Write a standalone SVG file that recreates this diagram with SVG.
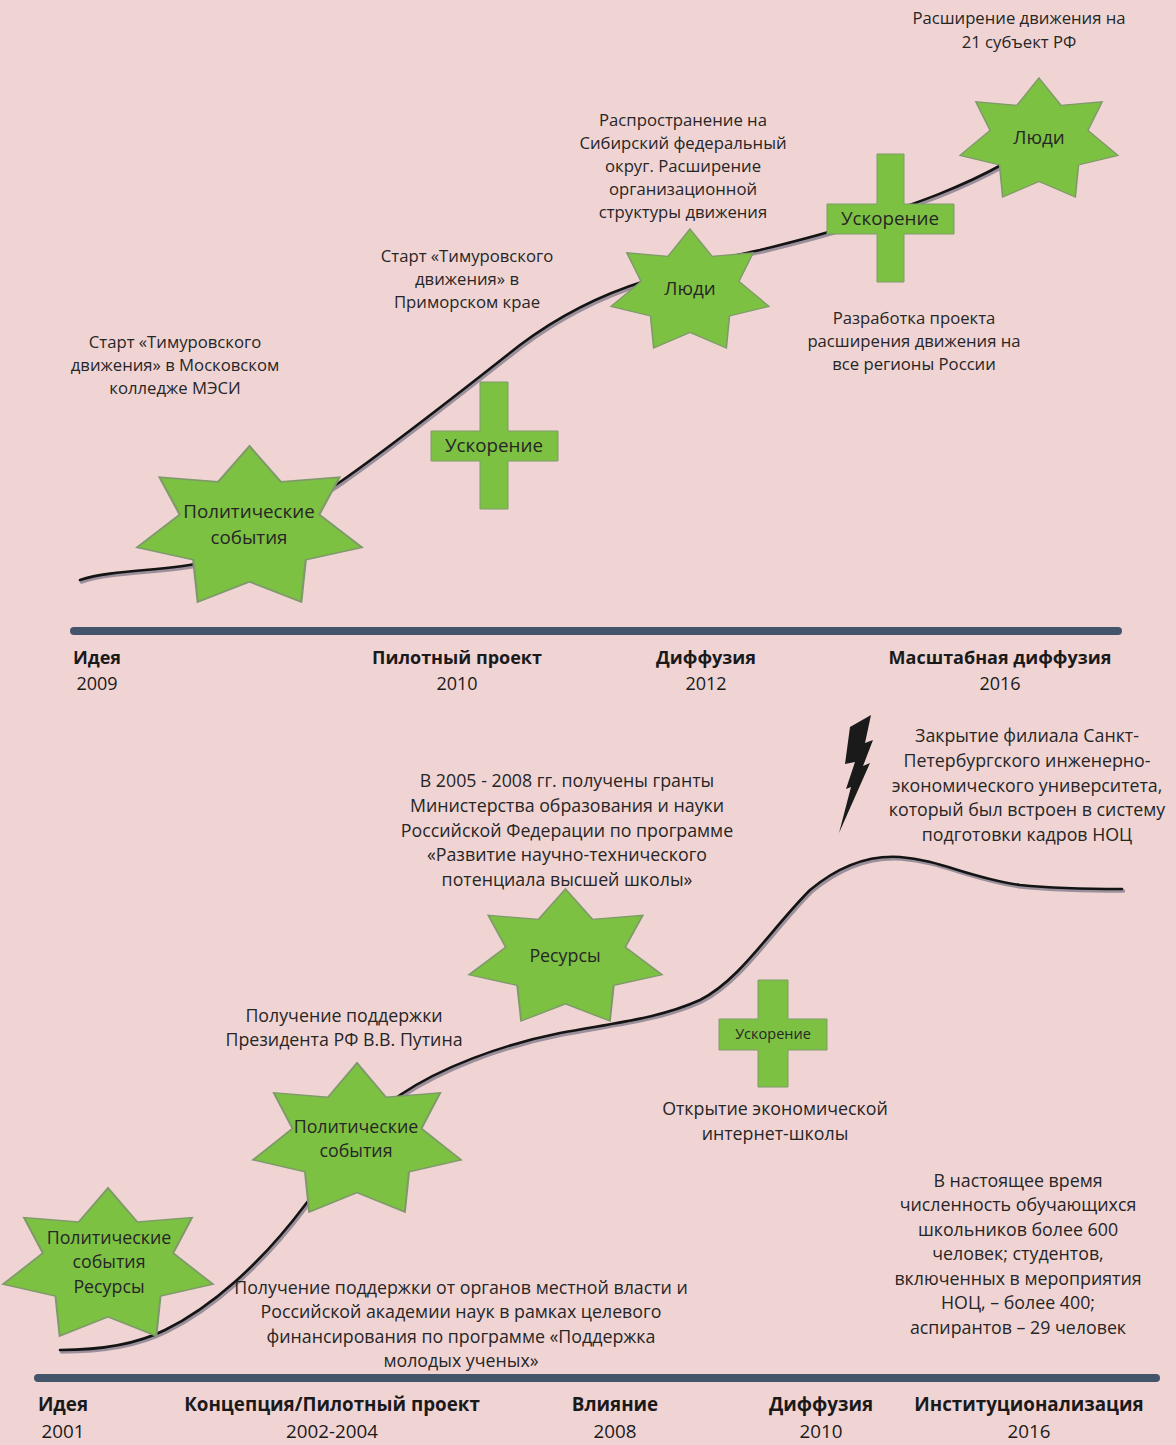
<svg xmlns="http://www.w3.org/2000/svg" width="1176" height="1445" viewBox="0 0 1176 1445">
<defs>
<style>
.t{font-family:"Open Sans","Liberation Sans",sans-serif;font-size:16.7px;fill:#262626;text-anchor:middle}
.u{font-family:"Open Sans","Liberation Sans",sans-serif;font-size:17.8px;fill:#262626;text-anchor:middle}
.s{font-family:"Open Sans","Liberation Sans",sans-serif;font-size:18.8px;fill:#262626;text-anchor:middle}
.b{font-family:"Open Sans","Liberation Sans",sans-serif;font-size:18px;font-weight:bold;fill:#1a1a1a;text-anchor:middle}
.b2{font-family:"Open Sans","Liberation Sans",sans-serif;font-size:18.8px;font-weight:bold;fill:#1a1a1a;text-anchor:middle}
.y{font-family:"Open Sans","Liberation Sans",sans-serif;font-size:18px;fill:#1a1a1a;text-anchor:middle}
.y2{font-family:"Open Sans","Liberation Sans",sans-serif;font-size:18.8px;fill:#1a1a1a;text-anchor:middle}
.g{fill:#7dc142;stroke:#7f9a6a;stroke-width:1;vector-effect:non-scaling-stroke}
.cs{fill:none;stroke:#9a8f9a;stroke-width:3.5;stroke-linecap:round}
.cb{fill:none;stroke:#141414;stroke-width:2.6;stroke-linecap:round}
.bar{stroke:#44546a;stroke-width:8;stroke-linecap:round}
</style>
<path id="star" d="M50,0 L64,23 L90,20 L81,44 L100,65 L75,73 L73,100 L50,87 L27,100 L25,73 L0,65 L19,44 L10,20 L36,23 Z"/>
</defs>
<rect width="1176" height="1445" fill="#f0d4d4"/>

<g id="connectors">
<g transform="translate(1.5,2)">
<path class="cs" d="M80,580 C110,570 160,571 195,564 C240,552 290,515 340,482 C400,440 460,392 520,345 C560,315 600,295 645,281 C690,268 720,258 760,250 C800,240 830,233 860,222 C920,202 960,188 1005,163"/>
<path class="cs" d="M60,1350 C100,1350 135,1345 165,1330 C210,1308 260,1265 305,1205 C340,1160 370,1115 400,1095 C440,1068 500,1045 560,1033 C620,1022 660,1018 700,1000 C740,980 770,930 810,890 C840,865 870,855 900,857 C940,860 970,878 1020,885 C1060,889 1100,889 1122,889"/>
</g>
<path class="cb" d="M80,580 C110,570 160,571 195,564 C240,552 290,515 340,482 C400,440 460,392 520,345 C560,315 600,295 645,281 C690,268 720,258 760,250 C800,240 830,233 860,222 C920,202 960,188 1005,163"/>
<path class="cb" d="M60,1350 C100,1350 135,1345 165,1330 C210,1308 260,1265 305,1205 C340,1160 370,1115 400,1095 C440,1068 500,1045 560,1033 C620,1022 660,1018 700,1000 C740,980 770,930 810,890 C840,865 870,855 900,857 C940,860 970,878 1020,885 C1060,889 1100,889 1122,889"/>
</g>

<g id="timeline-top">
<line class="bar" x1="74" y1="631" x2="1118" y2="631"/>
<text class="b" x="97" y="664">Идея</text><text class="y" x="97" y="690">2009</text>
<text class="b" x="457" y="664">Пилотный проект</text><text class="y" x="457" y="690">2010</text>
<text class="b" x="706" y="664">Диффузия</text><text class="y" x="706" y="690">2012</text>
<text class="b" x="1000" y="664">Масштабная диффузия</text><text class="y" x="1000" y="690">2016</text>
</g>

<g id="timeline-bottom">
<line class="bar" x1="38" y1="1378" x2="1156" y2="1378"/>
<text class="b2" x="63" y="1411">Идея</text><text class="y2" x="63" y="1438">2001</text>
<text class="b2" x="332" y="1411">Концепция/Пилотный проект</text><text class="y2" x="332" y="1438">2002-2004</text>
<text class="b2" x="615" y="1411">Влияние</text><text class="y2" x="615" y="1438">2008</text>
<text class="b2" x="821" y="1411">Диффузия</text><text class="y2" x="821" y="1438">2010</text>
<text class="b2" x="1029" y="1411">Институционализация</text><text class="y2" x="1029" y="1438">2016</text>
</g>

<g id="star-politics-top">
<use href="#star" class="g" transform="translate(137,446) scale(2.25,1.56)"/>
<text class="s" x="249" y="518">Политические</text><text class="s" x="249" y="544">события</text>
</g>
<g id="cross-accel-1">
<path class="g" d="M480,382 H508 V431 H558 V461 H508 V509 H480 V461 H431 V431 H480 Z"/>
<text class="s" x="494" y="452">Ускорение</text>
</g>
<g id="star-people-1">
<use href="#star" class="g" transform="translate(611,229) scale(1.58,1.19)"/>
<text class="s" x="690" y="295">Люди</text>
</g>
<g id="cross-accel-2">
<path class="g" d="M877,154 H904 V204 H954 V234 H904 V282 H877 V234 H827 V204 H877 Z"/>
<text class="s" x="890" y="225">Ускорение</text>
</g>
<g id="star-people-2">
<use href="#star" class="g" transform="translate(960,78) scale(1.58,1.19)"/>
<text class="s" x="1039" y="144">Люди</text>
</g>

<g id="text-top">
<text class="t" x="1019" y="24">Расширение движения на</text>
<text class="t" x="1019" y="48">21 субъект РФ</text>
<text class="t" x="683" y="126">Распространение на</text>
<text class="t" x="683" y="149">Сибирский федеральный</text>
<text class="t" x="683" y="172">округ. Расширение</text>
<text class="t" x="683" y="195">организационной</text>
<text class="t" x="683" y="218">структуры движения</text>
<text class="t" x="467" y="262">Старт «Тимуровского</text>
<text class="t" x="467" y="285">движения» в</text>
<text class="t" x="467" y="308">Приморском крае</text>
<text class="t" x="175" y="348">Старт «Тимуровского</text>
<text class="t" x="175" y="371">движения» в Московском</text>
<text class="t" x="175" y="394">колледже МЭСИ</text>
<text class="t" x="914" y="324">Разработка проекта</text>
<text class="t" x="914" y="347">расширения движения на</text>
<text class="t" x="914" y="370">все регионы России</text>
</g>

<g id="lightning">
<path fill="#1a1a1a" d="M850,727 L871,715 L865,743 L873,740 L863,766 L870,763 L839,833 L851,787 L846,789 L855,762 L845,764 Z"/>
</g>

<g id="star-resources">
<use href="#star" class="g" transform="translate(469,889) scale(1.93,1.32)"/>
<text class="u" x="565" y="962">Ресурсы</text>
</g>
<g id="star-politics-mid">
<use href="#star" class="g" transform="translate(253,1063) scale(2.08,1.49)"/>
<text class="u" x="356" y="1133">Политические</text><text class="u" x="356" y="1157">события</text>
</g>
<g id="star-politics-resources">
<use href="#star" class="g" transform="translate(3,1188) scale(2.1,1.48)"/>
<text class="u" x="109" y="1244">Политические</text><text class="u" x="109" y="1268">события</text><text class="u" x="109" y="1293">Ресурсы</text>
</g>
<g id="cross-accel-3">
<path class="g" d="M758,980 H788 V1019 H827 V1050 H788 V1087 H758 V1050 H719 V1019 H758 Z"/>
<text class="s" x="773" y="1039" style="font-size:14.5px">Ускорение</text>
</g>

<g id="text-bottom">
<text class="u" x="1027" y="742">Закрытие филиала Санкт-</text>
<text class="u" x="1027" y="767">Петербургского инженерно-</text>
<text class="u" x="1027" y="792">экономического университета,</text>
<text class="u" x="1027" y="816">который был встроен в систему</text>
<text class="u" x="1027" y="841">подготовки кадров НОЦ</text>
<text class="u" x="567" y="787">В 2005 - 2008 гг. получены гранты</text>
<text class="u" x="567" y="812">Министерства образования и науки</text>
<text class="u" x="567" y="837">Российской Федерации по программе</text>
<text class="u" x="567" y="861">«Развитие научно-технического</text>
<text class="u" x="567" y="886">потенциала высшей школы»</text>
<text class="u" x="344" y="1022">Получение поддержки</text>
<text class="u" x="344" y="1046">Президента РФ В.В. Путина</text>
<text class="u" x="775" y="1115">Открытие экономической</text>
<text class="u" x="775" y="1140">интернет-школы</text>
<text class="u" x="1018" y="1187">В настоящее время</text>
<text class="u" x="1018" y="1211">численность обучающихся</text>
<text class="u" x="1018" y="1236">школьников более 600</text>
<text class="u" x="1018" y="1260">человек; студентов,</text>
<text class="u" x="1018" y="1285">включенных в мероприятия</text>
<text class="u" x="1018" y="1309">НОЦ, – более 400;</text>
<text class="u" x="1018" y="1334">аспирантов – 29 человек</text>
<text class="u" x="461" y="1294">Получение поддержки от органов местной власти и</text>
<text class="u" x="461" y="1318">Российской академии наук в рамках целевого</text>
<text class="u" x="461" y="1343">финансирования по программе «Поддержка</text>
<text class="u" x="461" y="1367">молодых ученых»</text>
</g>
</svg>
